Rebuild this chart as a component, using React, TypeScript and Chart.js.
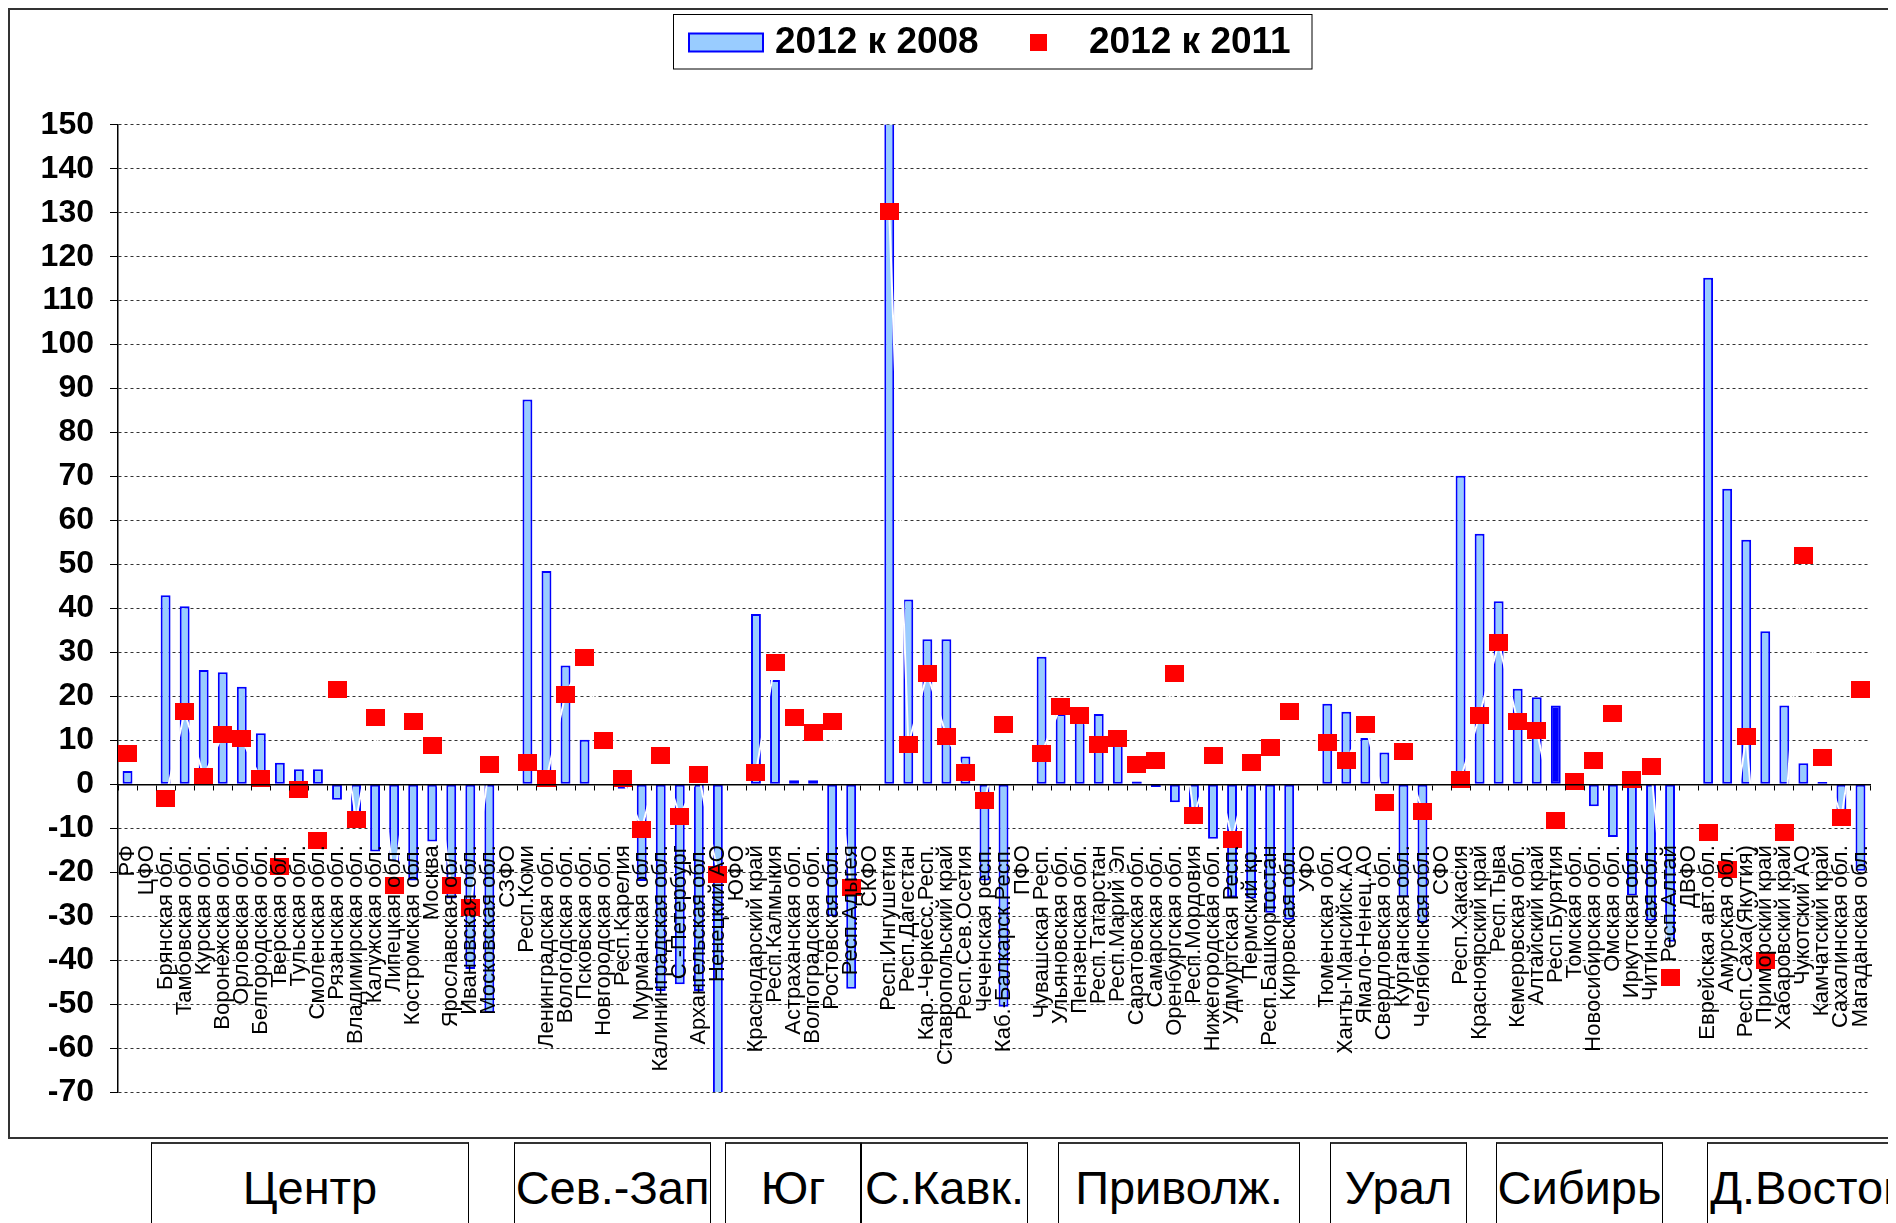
import React, { useEffect, useRef } from 'react';
import { Chart, registerables } from 'chart.js';

Chart.register(...registerables);

const FONT = '"Liberation Sans", Arial, Helvetica, sans-serif';

const categories = [
  'РФ', 'ЦФО', 'Брянская обл.', 'Тамбовская обл.', 'Курская обл.', 'Воронежская обл.', 'Орловская обл.',
  'Белгородская обл.', 'Тверская обл.', 'Тульская обл.', 'Смоленская обл.', 'Рязанская обл.',
  'Владимирская обл.', 'Калужская обл.', 'Липецкая обл.', 'Костромская обл.', 'Москва',
  'Ярославская обл.', 'Ивановская обл.', 'Московская обл.',
  'СЗФО', 'Респ.Коми', 'Ленинградская обл.', 'Вологодская обл.', 'Псковская обл.', 'Новгородская обл.',
  'Респ.Карелия', 'Мурманская обл.', 'Калининградская обл.', 'С.-Петербург', 'Архангельская обл.', 'Ненецкий АО',
  'ЮФО', 'Краснодарский край', 'Респ.Калмыкия', 'Астраханская обл.', 'Волгоградская обл.', 'Ростовская обл.', 'Респ.Адыгея',
  'СКФО', 'Респ.Ингушетия', 'Респ.Дагестан', 'Кар.-Черкесс.Респ.', 'Ставропольский край', 'Респ.Сев.Осетия',
  'Чеченская респ.', 'Каб.-Балкарск.Респ.',
  'ПФО', 'Чувашская Респ.', 'Ульяновская обл.', 'Пензенская обл.', 'Респ.Татарстан', 'Респ.Марий Эл',
  'Саратовская обл.', 'Самарская обл.', 'Оренбургская обл.', 'Респ.Мордовия', 'Нижегородская обл.',
  'Удмуртская Респ.', 'Пермский кр.', 'Респ.Башкортостан', 'Кировская обл.',
  'УФО', 'Тюменская обл.', 'Ханты-Мансийск.АО', 'Ямало-Ненец.АО', 'Свердловская обл.', 'Курганская обл.', 'Челябинская обл.',
  'СФО', 'Респ.Хакасия', 'Красноярский край', 'Респ.Тыва', 'Кемеровская обл.', 'Алтайский край', 'Респ.Бурятия',
  'Томская обл.', 'Новосибирская обл.', 'Омская обл.', 'Иркутская обл.', 'Читинская обл.', 'Респ.Алтай',
  'ДВФО', 'Еврейская авт.обл.', 'Амурская обл.', 'Респ.Саха(Якутия)', 'Приморский край', 'Хабаровский край',
  'Чукотский АО', 'Камчатский край', 'Сахалинская обл.', 'Магаданская обл.',
];

// 2012 к 2008 (bars)
const growth2012vs2008: (number | null)[] = [
  3, null, 43, 40.5, 26, 25.5, 22.2,
  11.6, 4.9, 3.4, 3.4, -3.5,
  -7, -15.3, -17.5, -21.9, -13,
  -26, -42, -52,
  null, 87.5, 48.5, 27, 10.1, null,
  -1, -22, -47, -45.5, -47, -85,
  null, 38.7, 23.7, 0.9, 0.9, -30, -46.5,
  null, 200, 42, 33, 33, 6.3,
  -21.9, -50.6,
  null, 29, 16, 15, 16, 10,
  0.6, -0.6, -4.1, -5.5, -12.4,
  -25.7, -26, -29.2, -30.8,
  null, 18.3, 16.5, 10.5, 7.2, -25.7, -31.5,
  null, 70.2, 57, 41.6, 21.7, 19.8, 17.9,
  null, -5, -12, -25.3, -31, -35.8,
  null, 115.2, 67.2, 55.6, 34.8, 17.9,
  4.8, 0.5, -6, -19.7,
];

// 2012 к 2011 (markers)
const growth2012vs2011: (number | null)[] = [
  7, null, -3.2, 16.5, 1.8, 11.3, 10.3,
  1.2, -18.7, -1.3, -12.8, 21.5,
  -8.1, 15.1, -23, 14.3, 8.9,
  -23, -28, 4.6,
  null, 5, 1.2, 20.5, 28.8, 10,
  1.2, -10.2, 6.5, -7.3, 2.2, -20.5,
  null, 2.7, 27.8, 15.2, 11.8, 14.2, -23.4,
  null, 130.3, 9, 25.3, 10.9, 2.7,
  -3.7, 13.7,
  null, 7, 17.7, 15.7, 9, 10.3,
  4.6, 5.5, 25.3, -7.1, 6.5,
  -12.5, 5, 8.3, 16.6,
  null, 9.4, 5.5, 13.7, -4.1, 7.5, -6.2,
  null, 1.1, 15.7, 32.2, 14.2, 12.3, -8.2,
  0.7, 5.5, 16.2, 1.1, 4, -44,
  null, -11, -19.5, 10.9, -40.2, -10.9,
  52, 6.1, -7.6, 21.6,
];

const highlightedRegion = 'Респ.Бурятия';
const seriesLabels = ['2012 к 2008', '2012 к 2011'];
const yMin = -70;
const yMax = 150;
const yStep = 10;

const districtNames = ['Центр', 'Сев.-Зап', 'Юг', 'С.Кавк.', 'Приволж.', 'Урал', 'Сибирь', 'Д.Восток'];
// layout of the district boxes under the chart (left, width in px)
const districtBoxes = [
  [143, 318], [506, 197], [717, 136], [853, 167], [1050, 242], [1322, 137], [1488, 167], [1699, 200],
];

const BAR_FILL = '#99CCFF';
const BAR_BORDER = '#0000FF';
const MARKER = '#FF0000';

const legendPlugin = {
  id: 'boxedLegend',
  afterDraw(chart: any) {
    const ctx = chart.ctx as CanvasRenderingContext2D;
    const ds = chart.data.datasets;
    ctx.save();
    ctx.fillStyle = '#FFFFFF';
    ctx.fillRect(663.5, 4.5, 638.5, 54.5);
    ctx.strokeStyle = '#000000';
    ctx.lineWidth = 1;
    ctx.strokeRect(663.5, 4.5, 638.5, 54.5);
    ctx.fillStyle = BAR_FILL;
    ctx.fillRect(679, 23.5, 74, 18);
    ctx.strokeStyle = BAR_BORDER;
    ctx.lineWidth = 2;
    ctx.strokeRect(679, 23.5, 74, 18);
    ctx.fillStyle = MARKER;
    ctx.fillRect(1020, 24, 17, 17);
    ctx.fillStyle = '#000000';
    ctx.font = `bold 37px ${FONT}`;
    ctx.textBaseline = 'middle';
    ctx.textAlign = 'left';
    ctx.fillText(ds[0].label, 765, 33);
    ctx.fillText(ds[1].label, 1079, 33);
    ctx.restore();
  },
};

export default function App() {
  const ref = useRef<HTMLCanvasElement>(null);

  useEffect(() => {
    const canvas = ref.current;
    if (!canvas) return;
    const marker = document.createElement('canvas');
    marker.width = 19;
    marker.height = 17;
    const mctx = marker.getContext('2d')!;
    mctx.fillStyle = MARKER;
    mctx.fillRect(0, 0, 19, 17);

    const chart = new Chart(canvas, {
      type: 'bar',
      data: {
        labels: categories,
        datasets: [
          {
            type: 'bar',
            label: seriesLabels[0],
            data: growth2012vs2008 as any,
            backgroundColor: categories.map((c) => (c === highlightedRegion ? BAR_BORDER : BAR_FILL)),
            borderColor: BAR_BORDER,
            borderWidth: 2,
            borderSkipped: false,
            barPercentage: 0.52,
            categoryPercentage: 1,
            order: 2,
          } as any,
          {
            type: 'line',
            label: seriesLabels[1],
            data: growth2012vs2011 as any,
            borderColor: '#FFFFFF',
            borderWidth: 2,
            pointStyle: marker,
            pointRadius: 10,
            pointHoverRadius: 10,
            spanGaps: false,
            order: 1,
          } as any,
        ],
      },
      options: {
        responsive: false,
        animation: false,
        layout: { padding: { left: 0, right: 22, top: 114.8, bottom: 45 } },
        plugins: { legend: { display: false }, tooltip: { enabled: false } },
        scales: {
          x: {
            position: { y: 0 } as any,
            afterFit: (s: any) => {
              s.paddingLeft = 0;
              s.paddingRight = 0;
            },
            grid: {
              drawOnChartArea: false,
              drawTicks: true,
              tickLength: 5,
              color: '#000000',
              offset: true,
              tickBorderDash: [],
              z: 1,
            },
            border: { display: true, color: '#000000', width: 1.5, z: 1 },
            ticks: {
              z: 1,
              autoSkip: false,
              minRotation: 90,
              maxRotation: 90,
              padding: 56,
              color: '#000000',
              font: { family: FONT, size: 22 },
            },
          },
          y: {
            min: yMin,
            max: yMax,
            afterFit: (s: any) => {
              s.width = 108;
            },
            grid: {
              color: '#333333',
              lineWidth: 1,
              drawTicks: true,
              tickLength: 8,
              tickColor: '#000000',
              tickBorderDash: [],
            },
            border: { display: true, color: '#000000', width: 1.5, dash: [3, 3] },
            ticks: {
              stepSize: yStep,
              autoSkip: false,
              padding: 16,
              color: '#000000',
              font: { family: FONT, size: 32, weight: 'bold' },
            },
          },
        },
      },
      plugins: [legendPlugin],
    });
    return () => chart.destroy();
  }, []);

  return (
    <div style={{ position: 'relative', width: 1888, height: 1215, overflow: 'hidden', fontFamily: FONT }}>
      <div
        style={{
          position: 'absolute',
          left: 0,
          top: 0,
          width: 1882,
          height: 1127,
          border: '2px solid #333333',
          background: '#FFFFFF',
        }}
      >
        <canvas ref={ref} width={1882} height={1127} style={{ display: 'block', width: 1882, height: 1127 }} />
      </div>
      {districtNames.map((name, i) => (
        <div
          key={name}
          style={{
            position: 'absolute',
            left: districtBoxes[i][0],
            top: 1134,
            width: districtBoxes[i][1],
            height: 120,
            boxSizing: 'border-box',
            border: '1px solid #000000',
            borderTop: '2px solid #333333',
            background: '#FFFFFF',
            textAlign: 'center',
            fontSize: 47,
            lineHeight: '47px',
            paddingTop: 20,
            whiteSpace: 'nowrap',
            color: '#000000',
          }}
        >
          {name}
        </div>
      ))}
    </div>
  );
}
